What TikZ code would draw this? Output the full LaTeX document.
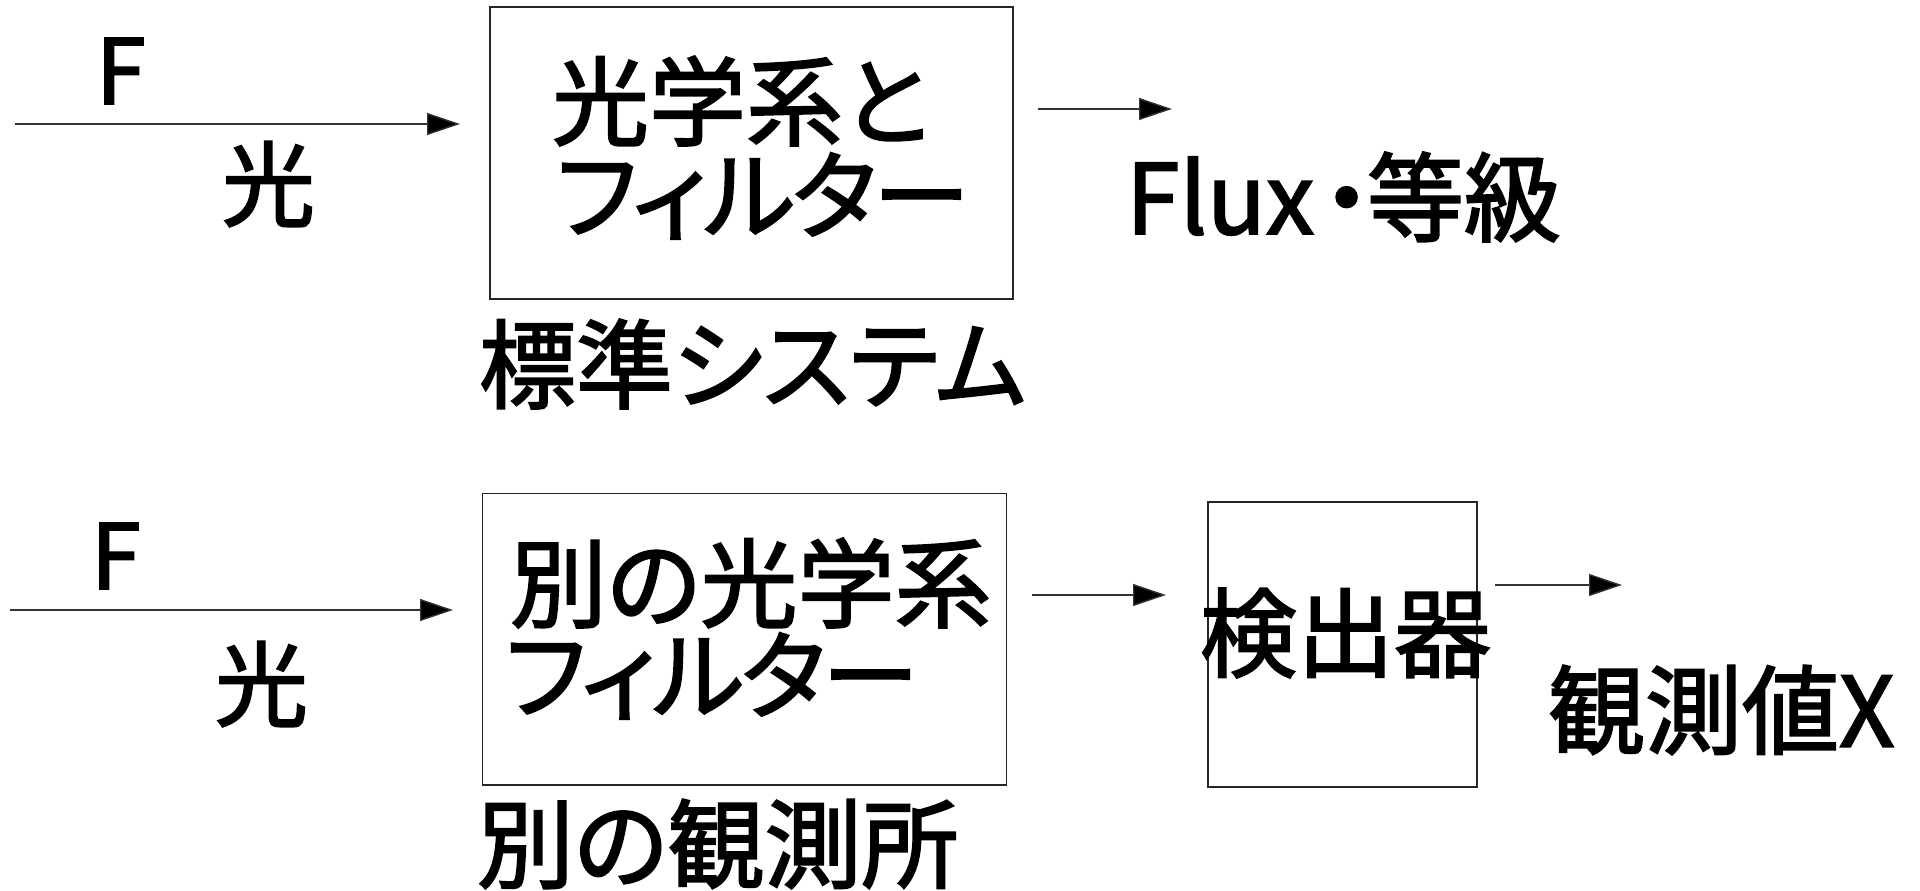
\documentclass[tikz,border=0pt]{standalone}
\usepackage{fontspec}
\setmainfont{Noto Sans CJK JP}[RawFeature=+palt, FakeBold=2]
\usetikzlibrary{arrows.meta}
\tikzset{
  box/.style={draw=black!85, line width=1.4pt},
  conn/.style={draw=black!80, line width=1.4pt, -{Triangle[length=33pt,width=22pt,fill=black]}},
  txt/.style={anchor=west, inner sep=0pt, outer sep=0pt},
  big/.style={font=\fontsize{97}{97}\selectfont},
  tight/.style={font=\fontsize{97}{97}\selectfont\addfontfeatures{LetterSpace=-3}},
  lab/.style={font=\fontsize{90}{90}\selectfont},
  labk/.style={font=\fontsize{93}{93}\selectfont},
}
\begin{document}
\begin{tikzpicture}[x=1pt,y=-1pt]
\useasboundingbox (0,0) rectangle (1920,891);
% top row
\coordinate (a1s) at (15,124);
\coordinate (a1e) at (460,124);
\node[txt,lab] (F1) at (96,71) {F};
\node[txt,labk] (K1) at (222,184) {光};
\draw[box] (490,7) rectangle (1013,299);
\node[txt,big] (b1l1) at (552,101) {光学系と};
\node[txt,tight] (b1l2) at (556,196) {フィルター};
\node[txt,big] (std) at (479,364) {標準システム};
\coordinate (a2s) at (1038,109);
\coordinate (a2e) at (1172,109);
\node[txt,big] (flux) at (1126,197) {Flux\kern8pt ・\kern-4pt 等級};
\draw[conn] (a1s) -- (a1e);
\draw[conn] (a2s) -- (a2e);
% bottom row
\coordinate (a3s) at (10,610);
\coordinate (a3e) at (453,610);
\node[txt,lab] (F2) at (91,556) {F};
\node[txt,labk] (K2) at (215,684) {光};
\draw[box] (482.5,493.5) rectangle (1006.5,785);
\node[txt,big] (b2l1) at (510,583) {別の光学系};
\node[txt,tight] (b2l2) at (505,676) {フィルター};
\node[txt,big] (obs) at (477,844) {別の観測所};
\coordinate (a4s) at (1032,595);
\coordinate (a4e) at (1166,595);
\draw[box] (1208,502) rectangle (1477,787);
\node[txt,big] (det) at (1200,633) {検出器};
\coordinate (a5s) at (1495,585);
\coordinate (a5e) at (1622,585);
\node[txt,big] (val) at (1548,710) {観測値X};
\draw[conn] (a3s) -- (a3e);
\draw[conn] (a4s) -- (a4e);
\draw[conn] (a5s) -- (a5e);
\end{tikzpicture}
\end{document}
